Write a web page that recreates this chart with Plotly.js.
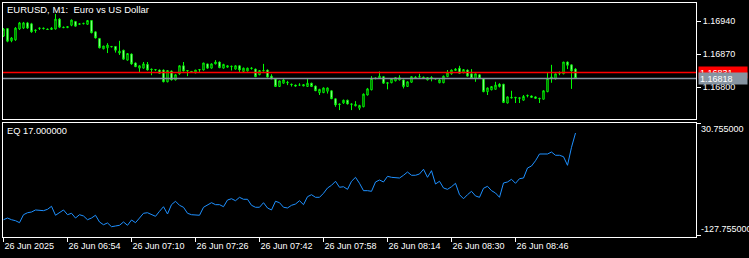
<!DOCTYPE html>
<html><head><meta charset="utf-8">
<script src="https://cdn.plot.ly/plotly-3.0.1.min.js"></script>
<style>html,body{margin:0;padding:0;background:#000;overflow:hidden}#chart{width:749px;height:258px}</style>
</head><body><div id="chart"></div>
<script>
// ---- data (EURUSD M1, 26 Jun 2025, first bar 06:38) ----
const firstBarHour = 6, firstBarMinute = 38;
const openP = [1.16908,1.16924,1.16898,1.16900,1.16923,1.16925,1.16936,1.16934,1.16921,1.16924,
1.16925,1.16923,1.16922,1.16923,1.16944,1.16927,1.16926,1.16931,1.16939,1.16933,
1.16934,1.16933,1.16941,1.16917,1.16903,1.16881,1.16883,1.16885,1.16886,1.16872,
1.16878,1.16857,1.16870,1.16851,1.16840,1.16840,1.16848,1.16838,1.16836,1.16836,
1.16836,1.16811,1.16834,1.16815,1.16828,1.16845,1.16834,1.16833,1.16830,1.16836,
1.16836,1.16849,1.16840,1.16849,1.16853,1.16840,1.16842,1.16843,1.16838,1.16845,
1.16833,1.16834,1.16839,1.16838,1.16826,1.16834,1.16836,1.16823,1.16817,1.16801,
1.16808,1.16810,1.16806,1.16804,1.16804,1.16802,1.16801,1.16808,1.16802,1.16788,
1.16788,1.16791,1.16792,1.16775,1.16764,1.16766,1.16772,1.16763,1.16760,1.16755,
1.16758,1.16783,1.16794,1.16818,1.16818,1.16822,1.16809,1.16809,1.16813,1.16815,
1.16815,1.16801,1.16810,1.16821,1.16821,1.16821,1.16815,1.16819,1.16818,1.16809,
1.16809,1.16822,1.16828,1.16835,1.16840,1.16830,1.16836,1.16828,1.16818,1.16826,
1.16818,1.16790,1.16794,1.16795,1.16806,1.16806,1.16766,1.16778,1.16778,1.16777,
1.16772,1.16781,1.16781,1.16779,1.16776,1.16774,1.16790,1.16819,1.16817,1.16829,
1.16828,1.16853,1.16847,1.16838];
const highP = [1.16925,1.16925,1.16906,1.16927,1.16938,1.16938,1.16938,1.16936,1.16922,1.16926,
1.16926,1.16924,1.16927,1.16955,1.16946,1.16928,1.16929,1.16943,1.16940,1.16935,
1.16936,1.16942,1.16942,1.16918,1.16904,1.16887,1.16893,1.16887,1.16886,1.16898,
1.16879,1.16872,1.16871,1.16852,1.16846,1.16853,1.16853,1.16839,1.16838,1.16837,
1.16837,1.16836,1.16835,1.16827,1.16846,1.16853,1.16836,1.16834,1.16836,1.16838,
1.16851,1.16849,1.16850,1.16857,1.16854,1.16849,1.16846,1.16845,1.16846,1.16846,
1.16841,1.16841,1.16842,1.16839,1.16835,1.16849,1.16837,1.16827,1.16818,1.16813,
1.16818,1.16813,1.16807,1.16805,1.16808,1.16806,1.16818,1.16809,1.16803,1.16796,
1.16799,1.16799,1.16793,1.16776,1.16765,1.16773,1.16773,1.16765,1.16770,1.16762,
1.16786,1.16798,1.16823,1.16820,1.16833,1.16823,1.16810,1.16818,1.16821,1.16825,
1.16816,1.16812,1.16822,1.16823,1.16828,1.16822,1.16821,1.16823,1.16819,1.16819,
1.16824,1.16836,1.16837,1.16840,1.16845,1.16838,1.16837,1.16838,1.16828,1.16827,
1.16818,1.16799,1.16801,1.16811,1.16808,1.16806,1.16780,1.16792,1.16779,1.16778,
1.16783,1.16784,1.16782,1.16780,1.16777,1.16793,1.16830,1.16847,1.16828,1.16833,
1.16853,1.16854,1.16847,1.16840];
const lowP = [1.16906,1.16895,1.16895,1.16898,1.16921,1.16923,1.16923,1.16915,1.16915,1.16921,
1.16922,1.16921,1.16921,1.16922,1.16925,1.16925,1.16925,1.16929,1.16929,1.16932,
1.16933,1.16932,1.16914,1.16903,1.16882,1.16880,1.16872,1.16884,1.16873,1.16868,
1.16858,1.16856,1.16847,1.16843,1.16830,1.16839,1.16835,1.16825,1.16834,1.16829,
1.16810,1.16810,1.16814,1.16814,1.16826,1.16833,1.16823,1.16830,1.16829,1.16832,
1.16835,1.16839,1.16839,1.16848,1.16840,1.16839,1.16841,1.16835,1.16837,1.16830,
1.16832,1.16833,1.16837,1.16821,1.16825,1.16833,1.16820,1.16817,1.16800,1.16800,
1.16807,1.16804,1.16801,1.16801,1.16803,1.16802,1.16800,1.16800,1.16792,1.16783,
1.16787,1.16786,1.16775,1.16758,1.16751,1.16764,1.16763,1.16751,1.16759,1.16751,
1.16757,1.16782,1.16793,1.16816,1.16817,1.16807,1.16795,1.16808,1.16812,1.16814,
1.16797,1.16800,1.16809,1.16818,1.16820,1.16819,1.16814,1.16812,1.16816,1.16808,
1.16808,1.16821,1.16826,1.16834,1.16829,1.16830,1.16823,1.16817,1.16811,1.16817,
1.16789,1.16783,1.16793,1.16795,1.16799,1.16766,1.16765,1.16776,1.16766,1.16766,
1.16771,1.16778,1.16777,1.16775,1.16766,1.16774,1.16789,1.16809,1.16816,1.16825,
1.16827,1.16838,1.16796,1.16818];
const closeP = [1.16923,1.16897,1.16904,1.16925,1.16936,1.16936,1.16925,1.16917,1.16920,1.16925,
1.16924,1.16922,1.16925,1.16944,1.16927,1.16926,1.16928,1.16942,1.16929,1.16934,
1.16935,1.16941,1.16915,1.16904,1.16883,1.16887,1.16889,1.16886,1.16878,1.16876,
1.16859,1.16871,1.16849,1.16843,1.16845,1.16849,1.16836,1.16837,1.16837,1.16829,
1.16811,1.16835,1.16815,1.16826,1.16845,1.16834,1.16835,1.16832,1.16836,1.16837,
1.16851,1.16840,1.16849,1.16853,1.16841,1.16848,1.16845,1.16844,1.16845,1.16836,
1.16840,1.16840,1.16840,1.16822,1.16835,1.16835,1.16821,1.16817,1.16801,1.16813,
1.16815,1.16809,1.16805,1.16802,1.16804,1.16805,1.16808,1.16801,1.16792,1.16795,
1.16798,1.16798,1.16775,1.16762,1.16763,1.16772,1.16764,1.16764,1.16763,1.16761,
1.16785,1.16796,1.16818,1.16819,1.16823,1.16808,1.16808,1.16818,1.16820,1.16820,
1.16801,1.16811,1.16822,1.16820,1.16822,1.16820,1.16820,1.16820,1.16817,1.16815,
1.16823,1.16830,1.16836,1.16838,1.16829,1.16837,1.16823,1.16818,1.16828,1.16818,
1.16790,1.16798,1.16801,1.16804,1.16801,1.16767,1.16779,1.16777,1.16777,1.16776,
1.16780,1.16782,1.16778,1.16776,1.16775,1.16792,1.16818,1.16821,1.16828,1.16830,
1.16853,1.16846,1.16834,1.16818];
const eqValues = [-105.7,-103.3,-105.7,-107.1,-109.9,-98.6,-95.8,-94.8,-91.9,-91.9,
-92.9,-91.0,-86.7,-99.4,-95.8,-91.9,-98.6,-96.6,-103.3,-98.6,
-100.4,-105.7,-103.3,-99.4,-108.9,-112.8,-110.3,-115.6,-114.6,-113.6,
-108.9,-113.6,-106.1,-109.9,-103.3,-96.6,-95.8,-98.6,-100.9,-93.8,
-87.3,-97.6,-84.4,-79.6,-85.3,-88.1,-96.6,-98.6,-98.6,-99.4,
-88.1,-85.3,-81.6,-84.4,-84.4,-87.3,-77.8,-76.0,-78.8,-74.0,
-76.8,-76.8,-85.3,-88.1,-88.1,-81.6,-89.1,-91.9,-79.6,-81.6,
-88.1,-89.1,-85.3,-83.5,-78.8,-84.4,-73.1,-70.3,-74.0,-74.0,
-68.3,-60.8,-57.0,-51.3,-59.8,-59.0,-62.7,-51.3,-45.7,-54.2,
-64.6,-64.6,-65.5,-52.3,-49.5,-52.3,-44.3,-45.7,-45.7,-46.7,
-42.8,-38.2,-42.8,-42.8,-41.0,-34.3,-45.7,-36.3,-55.2,-51.3,
-60.8,-62.7,-59.0,-54.2,-70.3,-76.0,-70.3,-65.5,-72.1,-74.0,
-61.2,-58.4,-64.6,-67.9,-74.0,-53.7,-52.3,-48.5,-54.2,-47.6,
-46.7,-32.5,-29.7,-22.2,-12.7,-12.7,-12.7,-9.9,-14.5,-14.5,
-16.5,-28.7,-3.2,17.0];
const timeTicks = ['2025-06-26 06:38','2025-06-26 06:54','2025-06-26 07:10','2025-06-26 07:26','2025-06-26 07:42','2025-06-26 07:58','2025-06-26 08:14','2025-06-26 08:30','2025-06-26 08:46'];
const timeTickLabels = ['26 Jun 2025','26 Jun 06:54','26 Jun 07:10','26 Jun 07:26','26 Jun 07:42','26 Jun 07:58','26 Jun 08:14','26 Jun 08:30','26 Jun 08:46'];
const priceTicks = [1.16800, 1.16870, 1.16940];
const priceTickLabels = ['1.16800','1.16870','1.16940'];
const eqTicks = [30.755, -127.755];
const eqTickLabels = ['30.755000','-127.755000'];
const askPrice = 1.16831, bidPrice = 1.16818;
const chartTitle = 'EURUSD, M1:\u00a0 Euro vs US Dollar';
const eqName = 'EQ';

// ---- build ----
function pad(n){return String(n).padStart(2,'0');}
const times = openP.map((_, i) => {
  const m = firstBarMinute + i;
  const h = firstBarHour + Math.floor(m / 60);
  return '2025-06-26 ' + pad(h) + ':' + pad(m % 60);
});

const FONT = 'Liberation Sans, Arial, sans-serif';
const GREEN = '#00FF00';
const BIDGRAY = '#8794A1';

const traces = [
  {
    type: 'candlestick', x: times, open: openP, high: highP, low: lowP, close: closeP,
    xaxis: 'x2', yaxis: 'y', hoverinfo: 'skip', whiskerwidth: 0,
    increasing: {line: {color: GREEN, width: 1}, fillcolor: '#000000'},
    decreasing: {line: {color: GREEN, width: 1}, fillcolor: '#FFFFFF'}
  },
  {
    type: 'scatter', mode: 'lines', x: times, y: eqValues, xaxis: 'x', yaxis: 'y2',
    line: {color: '#1E90FF', width: 1}, hoverinfo: 'skip'
  }
];

const xRange = ['2025-06-26 06:37:52.5', '2025-06-26 09:31:07.5'];

const layout = {
  width: 749, height: 258,
  margin: {l: 3, r: 53, t: 3, b: 21, pad: 0},
  paper_bgcolor: '#000000', plot_bgcolor: '#000000',
  showlegend: false, boxgap: 0.5,
  font: {family: FONT, size: 9, color: '#FFFFFF'},
  xaxis: {
    type: 'date', range: xRange, anchor: 'y2', domain: [0, 1],
    showline: true, mirror: true, linecolor: '#FFFFFF', linewidth: 1,
    showgrid: false, zeroline: false,
    tickmode: 'array', tickvals: timeTicks, ticktext: timeTickLabels,
    ticks: 'outside', ticklen: 4, tickwidth: 1, tickcolor: '#FFFFFF',
    ticklabelposition: 'outside right',
    tickfont: {family: FONT, size: 9, color: '#FFFFFF'},
    rangeslider: {visible: false}, fixedrange: true
  },
  xaxis2: {
    type: 'date', range: xRange, anchor: 'y', matches: 'x', domain: [0, 1],
    showline: true, mirror: true, linecolor: '#FFFFFF', linewidth: 1,
    showgrid: false, zeroline: false, showticklabels: false, ticks: '',
    rangeslider: {visible: false}, fixedrange: true
  },
  yaxis: {
    domain: [0.50427, 1], range: [1.167321, 1.169782], anchor: 'x2', side: 'right',
    showline: true, mirror: true, linecolor: '#FFFFFF', linewidth: 1,
    showgrid: false, zeroline: false,
    tickmode: 'array', tickvals: priceTicks, ticktext: priceTickLabels,
    ticks: 'outside', ticklen: 4, tickwidth: 1, tickcolor: '#FFFFFF',
    tickfont: {family: FONT, size: 9, color: '#FFFFFF'}, fixedrange: true
  },
  yaxis2: {
    domain: [0, 0.48718], range: [-130.17, 31.18], anchor: 'x', side: 'right',
    showline: true, mirror: true, linecolor: '#FFFFFF', linewidth: 1,
    showgrid: false, zeroline: false,
    tickmode: 'array', tickvals: eqTicks, showticklabels: false,
    ticks: 'outside', ticklen: 4, tickwidth: 1, tickcolor: '#FFFFFF', fixedrange: true
  },
  shapes: [
    {type: 'line', xref: 'x2 domain', yref: 'y', x0: 0, x1: 1, y0: askPrice, y1: askPrice,
     line: {color: '#FF0000', width: 1.5}},
    {type: 'line', xref: 'x2 domain', yref: 'y', x0: 0, x1: 1, y0: bidPrice, y1: bidPrice,
     line: {color: BIDGRAY, width: 1.5}}
  ],
  annotations: [
    {text: chartTitle, xref: 'paper', yref: 'paper', x: 0, y: 0.9722, xanchor: 'left', yanchor: 'middle',
     xshift: 2, showarrow: false, font: {family: FONT, size: 9.5, color: '#FFFFFF'}},
    {text: eqName + ' ' + eqValues[eqValues.length - 1].toFixed(6), xref: 'paper', yref: 'paper', x: 0, y: 0.4509,
     xanchor: 'left', yanchor: 'middle', xshift: 2, showarrow: false, font: {family: FONT, size: 9.3, color: '#FFFFFF'}},
    {text: eqTickLabels[0], xref: 'paper', yref: 'y2', x: 1, y: eqTicks[0], xanchor: 'left', yanchor: 'top',
     xshift: 4, showarrow: false, borderpad: 0, font: {family: FONT, size: 9, color: '#FFFFFF'}},
    {text: eqTickLabels[1], xref: 'paper', yref: 'y2', x: 1, y: eqTicks[1], xanchor: 'left', yanchor: 'bottom',
     xshift: 4, showarrow: false, borderpad: 0, font: {family: FONT, size: 9, color: '#FFFFFF'}},
    {text: askPrice.toFixed(5), xref: 'paper', yref: 'y', x: 1, y: askPrice, xanchor: 'left', yanchor: 'middle',
     xshift: 2, showarrow: false, bgcolor: '#FF0000', width: 46, height: 9, borderpad: 1, align: 'left',
     font: {family: FONT, size: 9, color: '#FFFFFF'}},
    {text: bidPrice.toFixed(5), xref: 'paper', yref: 'y', x: 1, y: bidPrice, xanchor: 'left', yanchor: 'middle',
     xshift: 2, showarrow: false, bgcolor: BIDGRAY, width: 46, height: 9, borderpad: 1, align: 'left',
     font: {family: FONT, size: 9, color: '#FFFFFF'}}
  ]
};

Plotly.newPlot('chart', traces, layout, {staticPlot: true, displayModeBar: false});
</script>
</body></html>
